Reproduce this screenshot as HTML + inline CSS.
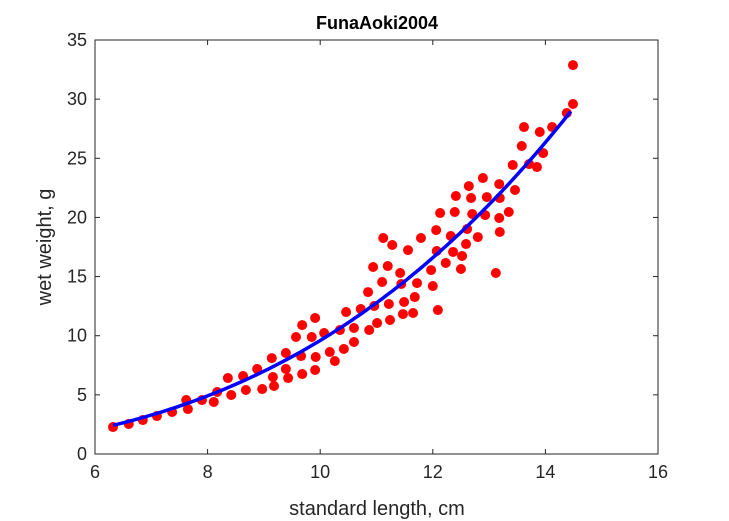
<!DOCTYPE html>
<html><head><meta charset="utf-8"><style>
body{margin:0;background:#fff;}
svg{display:block;font-family:"Liberation Sans",Arial,sans-serif;}
</style></head><body>
<svg id="chart" width="729" height="521">
<rect x="0" y="0" width="729" height="521" fill="#fff"/>
<text x="377" y="29" text-anchor="middle" font-size="18" font-weight="bold" fill="#000">FunaAoki2004</text>
<g id="plot"></g>
<text x="377" y="515" text-anchor="middle" font-size="20" fill="#262626">standard length, cm</text>
<text transform="translate(51,247) rotate(-90)" text-anchor="middle" font-size="20" fill="#262626">wet weight, g</text>
</svg>
<script>
const xTicks=[6,8,10,12,14,16];
const yTicks=[0,5,10,15,20,25,30,35];
const lengthCm=[6.32,6.60,6.85,7.10,7.37,7.62,7.65,7.90,8.11,8.17,8.36,8.42,8.63,8.68,8.88,8.97,9.14,9.16,9.18,9.39,9.39,9.43,9.57,9.68,9.66,9.68,9.85,9.91,9.92,9.91,10.07,10.17,10.26,10.35,10.46,10.42,10.60,10.60,
10.72,10.85,10.87,10.94,10.96,11.01,11.10,11.12,11.20,11.22,11.24,11.28,11.42,11.44,11.47,11.49,11.56,11.65,11.68,11.72,11.79,11.97,12.00,12.06,12.07,12.09,12.13,12.23,12.32,12.36,12.39,12.41,12.50,12.52,12.59,12.61,12.64,12.68,12.70,12.80,12.89,12.93,12.96,13.12,13.18,13.18,13.19,13.19,13.35,13.42,13.46,13.58,13.62,13.71,13.85,13.90,13.96,14.12,14.38,14.49,14.49];
const weightG=[2.28,2.54,2.87,3.21,3.55,4.56,3.80,4.56,4.40,5.24,6.42,4.99,6.59,5.41,7.19,5.49,8.11,6.51,5.75,8.54,7.19,6.42,9.89,10.90,8.28,6.76,9.89,11.50,8.20,7.10,10.23,8.62,7.86,10.48,12.00,8.88,10.65,9.47,
12.26,13.69,10.48,15.81,12.51,11.07,14.54,18.26,15.89,12.68,11.33,17.67,15.30,14.37,11.83,12.85,17.24,11.92,13.27,14.45,18.26,15.55,14.20,18.93,17.16,12.17,20.37,16.15,18.43,17.08,20.46,21.81,15.64,16.74,17.75,19.02,22.65,21.64,20.29,18.34,23.33,20.20,21.72,15.30,22.82,19.95,18.77,21.64,20.46,24.43,22.32,26.04,27.64,24.51,24.26,27.22,25.44,27.64,28.83,29.59,32.88];
const fitA=0.0096, fitB=3.0, fitMin=6.32, fitMax=14.45;
const L=95,R=658,T=40,B=454;
const sx=v=>L+(v-6)/(16-6)*(R-L);
const sy=v=>B-(v-0)/(35-0)*(B-T);
const NS='http://www.w3.org/2000/svg';
const g=document.getElementById('plot');
function mk(t,a){const e=document.createElementNS(NS,t);for(const k in a)e.setAttribute(k,a[k]);g.appendChild(e);return e;}
const box=mk('rect',{x:L,y:T,width:R-L,height:B-T,fill:'#fff',stroke:'#262626','stroke-width':1});


xTicks.forEach(v=>{
 const t=mk('line',{x1:sx(v),x2:sx(v),y1:B,y2:B-5,stroke:'#262626'});
 
 
 const t2=mk('line',{x1:sx(v),x2:sx(v),y1:T,y2:T+5,stroke:'#262626'});
 
 
 const l=mk('text',{x:sx(v),y:B+24,'text-anchor':'middle','font-size':18,fill:'#262626'});
 l.textContent=v;
 
 
});
yTicks.forEach(v=>{
 const t=mk('line',{x1:L,x2:L+5,y1:sy(v),y2:sy(v),stroke:'#262626'});
 
 
 const t2=mk('line',{x1:R,x2:R-5,y1:sy(v),y2:sy(v),stroke:'#262626'});
 
 
 const l=mk('text',{x:L-8,y:sy(v)+6,'text-anchor':'end','font-size':18,fill:'#262626'});
 l.textContent=v;
 
 
});
lengthCm.forEach((x,i)=>{
 const c=mk('circle',{cx:sx(x),cy:sy(weightG[i]),r:5,fill:'#ff0000'});
 
 
});
let d='';
for(let i=0;i<=100;i++){const x=fitMin+(fitMax-fitMin)*i/100;d+=(i?'L':'M')+sx(x).toFixed(1)+','+sy(fitA*Math.pow(x,fitB)).toFixed(1);}
const p=mk('path',{d:d,fill:'none',stroke:'#0000ff','stroke-width':3.5});


</script>
</body></html>
